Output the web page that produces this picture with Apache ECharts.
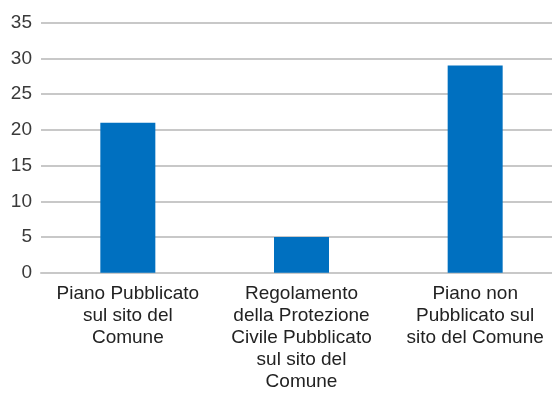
<!DOCTYPE html>
<html>
<head>
<meta charset="utf-8">
<script src="https://cdn.jsdelivr.net/npm/echarts@6/dist/echarts.min.js"></script>
<style>
html,body{margin:0;padding:0;background:#fff;overflow:hidden;width:552px;height:396px;}
#c{width:562px;height:396px;}
</style>
</head>
<body>
<div id="c"></div>
<script>
var categories = [
  "Piano Pubblicato\nsul sito del\nComune",
  "Regolamento\ndella Protezione\nCivile Pubblicato\nsul sito del\nComune",
  "Piano non\nPubblicato sul\nsito del Comune"
];
var values = [21, 5, 29];
var yTicks = { min: 0, max: 35, interval: 5 };

var chart = echarts.init(document.getElementById('c'), null, { renderer: 'canvas' });
chart.setOption({
  animation: false,
  backgroundColor: '#ffffff',
  grid: { left: 41, right: 0, top: 22.7, height: 250, containLabel: false },
  xAxis: {
    type: 'category',
    data: categories,
    axisTick: { show: false },
    axisLine: { show: true, lineStyle: { color: '#c8c8c8', width: 2 } },
    axisLabel: {
      interval: 0,
      margin: 10,
      color: '#222222',
      fontFamily: 'Liberation Sans, Arial, sans-serif',
      fontSize: 19,
      lineHeight: 22,
      align: 'center'
    }
  },
  yAxis: {
    type: 'value',
    min: yTicks.min,
    max: yTicks.max,
    interval: yTicks.interval,
    axisLine: { show: false },
    axisTick: { show: false },
    splitLine: { show: true, lineStyle: { color: '#c8c8c8', width: 2 } },
    axisLabel: {
      margin: 9,
      color: '#3a3a3a',
      fontFamily: 'Liberation Sans, Arial, sans-serif',
      fontSize: 19
    }
  },
  series: [{
    type: 'bar',
    data: values,
    barWidth: 55,
    itemStyle: { color: '#0070C0' }
  }]
});
</script>
</body>
</html>
